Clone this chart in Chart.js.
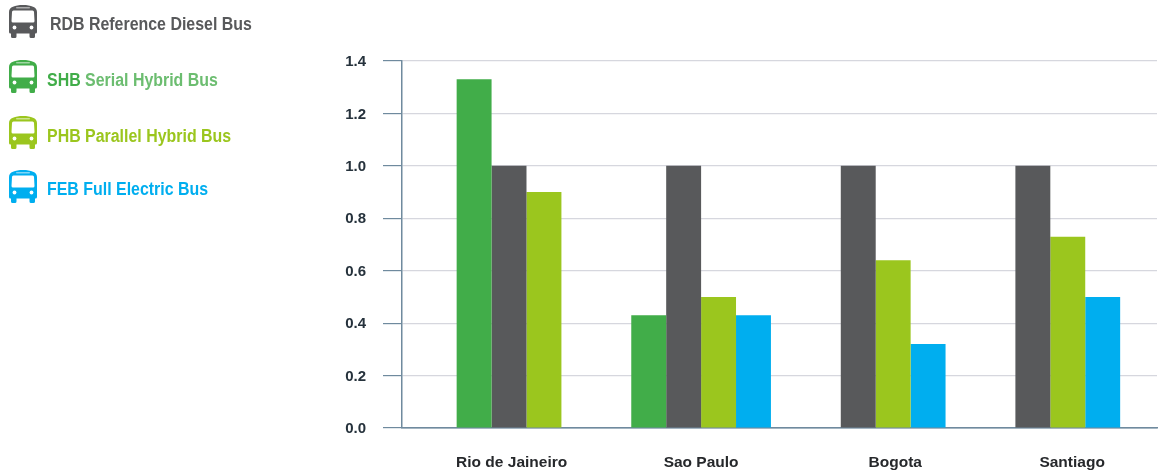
<!DOCTYPE html>
<html>
<head>
<meta charset="utf-8">
<title>Bus fleet cost comparison</title>
<script src="https://cdn.jsdelivr.net/npm/chart.js@4"></script>
<style>
  html, body { margin: 0; padding: 0; background: #fff; }
  #wrap { position: relative; width: 1165px; height: 474px; overflow: hidden; }
  canvas { position: absolute; left: 0; top: 0; }
  .key { position: absolute; left: 9px; height: 34px; font: bold 18px "Liberation Sans", sans-serif; white-space: nowrap; }
  .key svg { position: absolute; left: 0; top: 0; }
  .key .text { position: absolute; line-height: 22px; transform: scaleX(0.885); transform-origin: left center; }
</style>
</head>
<body>
<div id="wrap"><canvas id="chart" width="1165" height="474"></canvas></div>
<script>
const categories = ['Rio de Jaineiro', 'Sao Paulo', 'Bogota', 'Santiago'];
const shbValues = [1.33, 0.43, null, null];
const rdbValues = [1.0, 1.0, 1.0, 1.0];
const phbValues = [0.9, 0.5, 0.64, 0.73];
const febValues = [null, 0.43, 0.32, 0.5];
const yTicks = [0, 0.2, 0.4, 0.6, 0.8, 1.0, 1.2, 1.4];

const GREEN = '#41ad49', GREY = '#58595b', LIME = '#9bc61e', BLUE = '#00aeef';
const seriesList = [
  { code: 'SHB', name: 'Serial Hybrid Bus', values: shbValues, color: GREEN },
  { code: 'RDB', name: 'Reference Diesel Bus', values: rdbValues, color: GREY },
  { code: 'PHB', name: 'Parallel Hybrid Bus', values: phbValues, color: LIME },
  { code: 'FEB', name: 'Full Electric Bus', values: febValues, color: BLUE }
];

// Key entries, top to bottom: icon top and text settings per row.
const keyRows = [
  { code: 'RDB', top: 5, textLeft: 41, textTop: 8, nameColor: GREY },
  { code: 'SHB', top: 60, textLeft: 38, textTop: 9, nameColor: '#6cbd70' },
  { code: 'PHB', top: 116, textLeft: 38, textTop: 9, nameColor: LIME },
  { code: 'FEB', top: 170, textLeft: 38, textTop: 8, nameColor: BLUE }
];

function busIcon(color) {
  return `<svg width="28" height="34" viewBox="0 0 28 34">
    <path d="M2 26h5.5v5.5a1.5 1.5 0 0 1-1.5 1.5H3.5A1.5 1.5 0 0 1 2 31.500zM20.500 26H26v5.500a1.500 1.500 0 0 1-1.500 1.500H22a1.500 1.500 0 0 1-1.500-1.500z" fill="${color}"/>
    <path d="M0 7C0 2 6 0 14 0s14 2 14 7v20a1.500 1.500 0 0 1-1.500 1.500h-25A1.500 1.500 0 0 1 0 27z" fill="${color}"/>
    <rect x="7" y="2" width="14" height="1.500" rx=".7" fill="#fff" opacity=".5"/>
    <path d="M4.500 5.500h19a1.500 1.500 0 0 1 1.500 1.500l.5 9a1.500 1.500 0 0 1-1.500 1.500H4A1.500 1.500 0 0 1 2.500 16L3 7a1.500 1.500 0 0 1 1.500-1.500z" fill="#fff"/>
    <circle cx="5.5" cy="22.500" r="1.900" fill="#fff"/><circle cx="22.500" cy="22.500" r="1.900" fill="#fff"/>
  </svg>`;
}

const wrap = document.getElementById('wrap');
keyRows.forEach(row => {
  const s = seriesList.find(item => item.code === row.code);
  const el = document.createElement('div');
  el.className = 'key';
  el.style.top = row.top + 'px';
  el.innerHTML = busIcon(s.color) +
    `<div class="text" style="left:${row.textLeft}px;top:${row.textTop}px;color:${row.nameColor}"><span style="color:${s.color}">${s.code}</span> ${s.name}</div>`;
  wrap.appendChild(el);
});

// Each group's label sits under the bars it really has, so empty slots shift it.
const slotShare = 0.2;
const labelNudge = [0.015, 0, 0.012, 0.025];
function labelPosition(i) {
  const filled = seriesList.map((s, k) => s.values[i] === null ? null : k).filter(k => k !== null);
  const mean = filled.reduce((a, b) => a + b, 0) / filled.length;
  return i + (mean - 1.5) * slotShare + labelNudge[i];
}

const AXIS = '#6f8a9e', GRID = '#d6d7de';

new Chart(document.getElementById('chart'), {
  type: 'bar',
  data: {
    datasets: seriesList.map(s => ({
      label: s.code + ' ' + s.name,
      data: s.values.map((y, x) => ({ x, y })),
      backgroundColor: s.color,
      borderWidth: 0,
      categoryPercentage: 0.8,
      barPercentage: 1
    }))
  },
  options: {
    responsive: false,
    animation: false,
    layout: { padding: { top: 61, right: 8, left: 0, bottom: 0 } },
    plugins: { legend: { display: false }, tooltip: { enabled: false } },
    scales: {
      x: {
        type: 'linear',
        offset: false,
        min: -0.713,
        max: 3.611,
        grid: { display: false, drawTicks: false },
        border: { display: true, color: AXIS, width: 1.5 },
        afterBuildTicks: scale => {
          scale.ticks = categories.map((_, i) => ({ value: labelPosition(i) }));
        },
        afterFit: scale => { scale.height = 46; },
        ticks: {
          autoSkip: false,
          maxRotation: 0,
          padding: 25,
          color: '#26282b',
          font: { family: '"Liberation Sans", sans-serif', size: 15.5, weight: 'bold' },
          callback: (_, i) => categories[i]
        }
      },
      y: {
        min: 0,
        max: 1.4,
        afterBuildTicks: scale => { scale.ticks = yTicks.map(value => ({ value })); },
        afterFit: scale => { scale.width = 402; },
        grid: {
          color: ctx => ctx.tick && ctx.tick.value === 0 ? AXIS : GRID,
          tickColor: AXIS,
          tickLength: 19,
          lineWidth: 1.2
        },
        border: { display: true, color: AXIS, width: 1.5 },
        ticks: {
          padding: 17,
          labelOffset: 1,
          color: '#26323c',
          font: { family: '"Liberation Sans", sans-serif', size: 15, weight: 'bold' },
          callback: value => value.toFixed(1)
        }
      }
    }
  }
});
</script>
</body>
</html>
